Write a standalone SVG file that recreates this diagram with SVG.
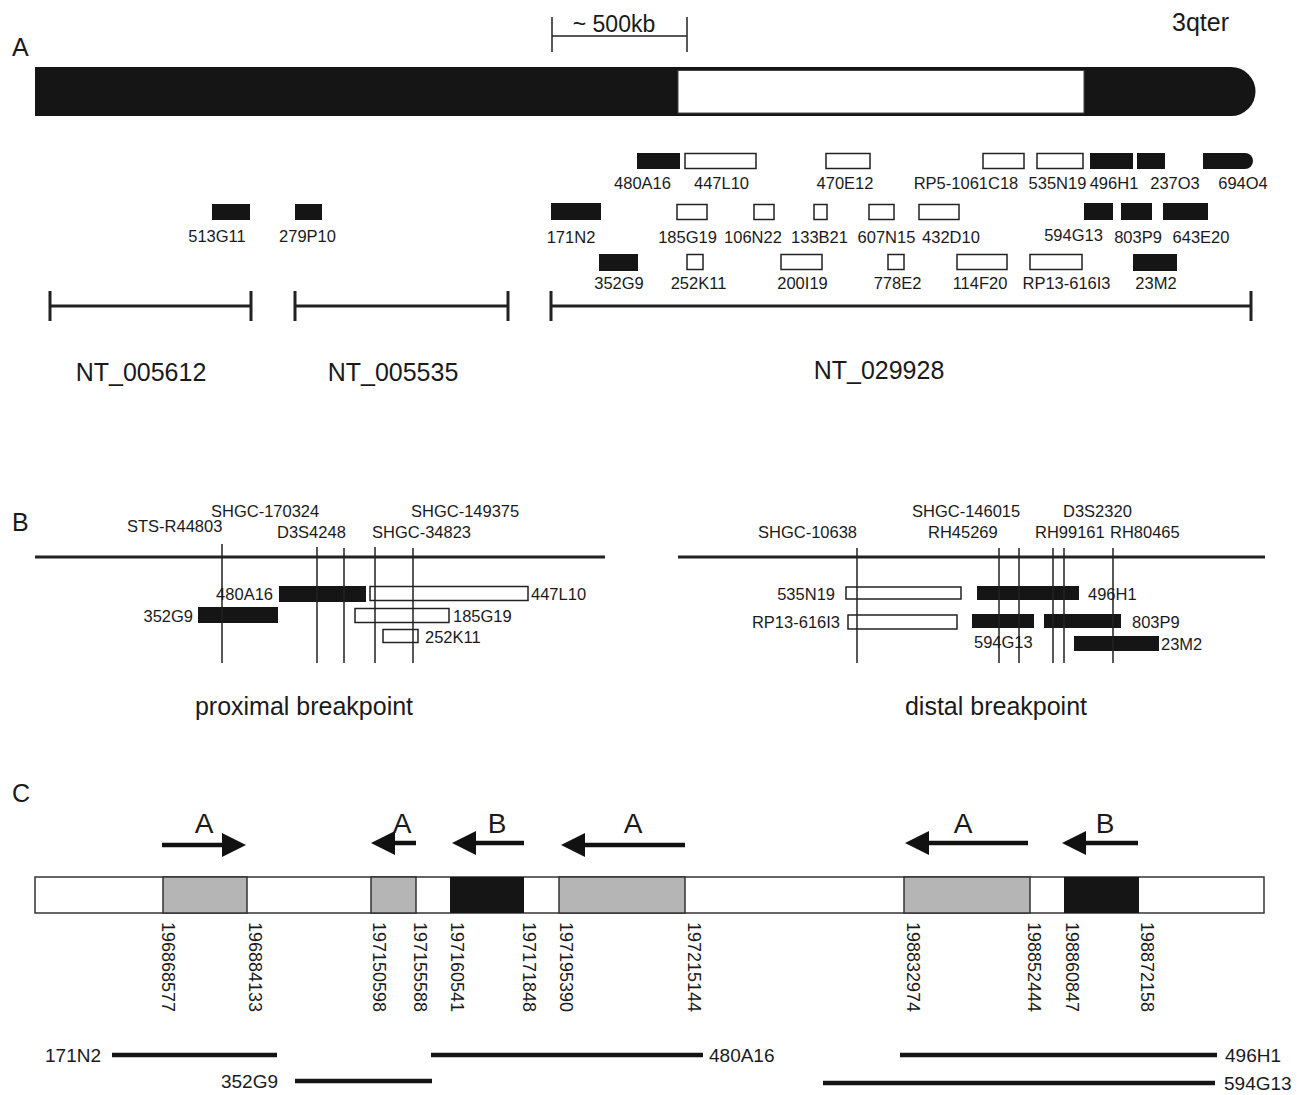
<svg xmlns="http://www.w3.org/2000/svg" width="1298" height="1095" viewBox="0 0 1298 1095">
<defs>
<style>
text{font-family:"Liberation Sans",Arial,sans-serif;fill:#1a1a1a}
.s{font-size:16.5px}
.m{font-size:19px}
.n{font-size:18px}
.l{font-size:25px}
.h{font-size:28px}
.blk{fill:#151515}
.wht{fill:#fff;stroke:#222;stroke-width:1.5}
.gry{fill:#b5b5b5;stroke:#333;stroke-width:1.5}
.ln{stroke:#222;fill:none}
.thin{stroke:#222;stroke-width:1.5;fill:none}
.arw{stroke:#111;stroke-width:4.5;fill:none;marker-end:url(#head)}
.bar{stroke:#151515;stroke-width:4.5}
.c{text-anchor:middle}
.e{text-anchor:end}
</style>
<marker id="head" viewBox="0 0 24 24" refX="0" refY="12" markerWidth="24" markerHeight="24" markerUnits="userSpaceOnUse" orient="auto">
<path d="M0,0 L24,12 L0,24 Z" fill="#111"/>
</marker>
</defs>
<rect width="1298" height="1095" fill="#fff"/>

<!-- Section A -->
<g id="sectionA">
<text x="12" y="56" class="l">A</text>
<text x="1172" y="31" class="l">3qter</text>
<g id="scalebar">
<path class="thin" d="M552,36 H687 M552,17 V52 M687,17 V52"/>
<text x="614" y="32" class="c" style="font-size:23px">~ 500kb</text>
</g>
<g id="chromosome">
<path class="blk" d="M35,67 H1231 A24.5,24.5 0 0 1 1231,116 H35 Z"/>
<rect x="678" y="70.5" width="406" height="42.5" fill="#fff" stroke="#444" stroke-width="1"/>
</g>

<g id="clones-row1">
<rect class="blk" x="637" y="153" width="43" height="16"/>
<rect class="wht" x="685" y="153.5" width="71" height="15"/>
<rect class="wht" x="826" y="153.5" width="44" height="15"/>
<rect class="wht" x="983" y="153.5" width="41" height="15"/>
<rect class="wht" x="1037" y="153.5" width="46" height="15"/>
<rect class="blk" x="1090" y="153" width="43" height="16"/>
<rect class="blk" x="1137" y="153" width="28" height="16"/>
<path class="blk" d="M1203,153 H1245 A8,8 0 0 1 1245,169 H1203 Z"/>
<text class="s c" x="642.5" y="189">480A16</text>
<text class="s c" x="721.5" y="189">447L10</text>
<text class="s c" x="845" y="189">470E12</text>
<text class="s c" x="966" y="189">RP5-1061C18</text>
<text class="s c" x="1057.5" y="189">535N19</text>
<text class="s c" x="1114" y="189">496H1</text>
<text class="s c" x="1175" y="189">237O3</text>
<text class="s c" x="1243" y="189">694O4</text>
</g>

<g id="clones-row2">
<rect class="blk" x="212" y="204" width="38" height="16"/>
<rect class="blk" x="295" y="204" width="27" height="16"/>
<rect class="blk" x="551" y="203" width="50" height="17"/>
<rect class="wht" x="677" y="204.5" width="30" height="15"/>
<rect class="wht" x="754" y="204.5" width="20" height="15"/>
<rect class="wht" x="814" y="204.5" width="13" height="15"/>
<rect class="wht" x="869" y="204.5" width="25" height="15"/>
<rect class="wht" x="919" y="204.5" width="40" height="15"/>
<rect class="blk" x="1084" y="203" width="29" height="17"/>
<rect class="blk" x="1121" y="203" width="31" height="17"/>
<rect class="blk" x="1163" y="203" width="45" height="17"/>
<text class="s c" x="217" y="242">513G11</text>
<text class="s c" x="307.5" y="242">279P10</text>
<text class="s c" x="571" y="243">171N2</text>
<text class="s c" x="687.5" y="243">185G19</text>
<text class="s c" x="753" y="243">106N22</text>
<text class="s c" x="819.5" y="243">133B21</text>
<text class="s c" x="886.5" y="243">607N15</text>
<text class="s c" x="951" y="243">432D10</text>
<text class="s c" x="1073.5" y="241">594G13</text>
<text class="s c" x="1138" y="243">803P9</text>
<text class="s c" x="1201" y="243">643E20</text>
</g>

<g id="clones-row3">
<rect class="blk" x="599" y="254" width="39" height="17"/>
<rect class="wht" x="687" y="254.5" width="16" height="15"/>
<rect class="wht" x="781" y="254.5" width="41" height="15"/>
<rect class="wht" x="888" y="254.5" width="16" height="15"/>
<rect class="wht" x="957" y="254.5" width="50" height="15"/>
<rect class="wht" x="1030" y="254.5" width="52" height="15"/>
<rect class="blk" x="1133" y="254" width="44" height="17"/>
<text class="s c" x="619" y="289">352G9</text>
<text class="s c" x="698.5" y="289">252K11</text>
<text class="s c" x="802.5" y="289">200I19</text>
<text class="s c" x="897.5" y="289">778E2</text>
<text class="s c" x="980" y="289">114F20</text>
<text class="s c" x="1066.5" y="289">RP13-616I3</text>
<text class="s c" x="1156" y="289">23M2</text>
</g>

<g id="contigs">
<path class="ln" stroke-width="3" d="M50,306 H251 M50,291 V321 M251,291 V321"/>
<path class="ln" stroke-width="3" d="M295,306 H508 M295,291 V321 M508,291 V321"/>
<path class="ln" stroke-width="3" d="M551,306 H1251 M551,291 V321 M1251,291 V321"/>
<text class="l c" x="141" y="381">NT_005612</text>
<text class="l c" x="393" y="381">NT_005535</text>
<text class="l c" x="879" y="379">NT_029928</text>
</g>
</g>

<!-- Section B -->
<g id="sectionB">
<text x="12" y="531" class="l">B</text>
<g id="proximal">
<path class="ln" stroke-width="3" d="M35,557 H605"/>
<rect class="blk" x="279" y="586" width="87" height="16"/>
<rect class="wht" x="370" y="586.5" width="158" height="14"/>
<rect class="blk" x="198" y="607" width="80" height="16"/>
<rect class="wht" x="355" y="608.5" width="94" height="14"/>
<rect class="wht" x="383" y="629.5" width="35" height="13"/>
<path class="thin" d="M222,544 V663 M317,547 V663 M344,548 V663 M375,547 V663 M413,548 V663"/>
<text class="s" x="127" y="532">STS-R44803</text>
<text class="s" x="211" y="517">SHGC-170324</text>
<text class="s" x="277" y="538">D3S4248</text>
<text class="s" x="411" y="517">SHGC-149375</text>
<text class="s" x="372" y="538">SHGC-34823</text>
<text class="s e" x="273" y="600">480A16</text>
<text class="s" x="531" y="600">447L10</text>
<text class="s e" x="193" y="622">352G9</text>
<text class="s" x="453" y="622">185G19</text>
<text class="s" x="425" y="643">252K11</text>
<text class="l c" x="304" y="715">proximal breakpoint</text>
</g>
<g id="distal">
<path class="ln" stroke-width="3" d="M678,557 H1265"/>
<rect class="wht" x="846" y="587" width="115" height="12"/>
<rect class="blk" x="977" y="586" width="102" height="14"/>
<rect class="wht" x="848" y="615" width="109" height="14"/>
<rect class="blk" x="972" y="614" width="62" height="14"/>
<rect class="blk" x="1044" y="614" width="77" height="14"/>
<rect class="blk" x="1074" y="636" width="85" height="15"/>
<path class="thin" d="M857,548 V663 M999,548 V663 M1019,548 V663 M1053,548 V663 M1064,548 V663 M1113,548 V663"/>
<text class="s" x="758" y="538">SHGC-10638</text>
<text class="s" x="912" y="517">SHGC-146015</text>
<text class="s" x="928" y="538">RH45269</text>
<text class="s" x="1063" y="517">D3S2320</text>
<text class="s" x="1035" y="538">RH99161</text>
<text class="s" x="1110" y="538">RH80465</text>
<text class="s e" x="835" y="600">535N19</text>
<text class="s" x="1088" y="600">496H1</text>
<text class="s e" x="840" y="628">RP13-616I3</text>
<text class="s" x="974" y="648">594G13</text>
<text class="s" x="1132" y="628">803P9</text>
<text class="s" x="1161" y="650">23M2</text>
<text class="l c" x="996" y="715">distal breakpoint</text>
</g>
</g>

<!-- Section C -->
<g id="sectionC">
<text x="12" y="802" class="l">C</text>
<g id="region-bar">
<rect x="35" y="877" width="1229" height="36" fill="#fff" stroke="#333" stroke-width="1.5"/>
<rect class="gry" x="163" y="877" width="84" height="36"/>
<rect class="gry" x="371" y="877" width="45" height="36"/>
<rect class="blk" x="450" y="877" width="74" height="36"/>
<rect class="gry" x="559" y="877" width="126" height="36"/>
<rect class="gry" x="904" y="877" width="126" height="36"/>
<rect class="blk" x="1064" y="877" width="75" height="36"/>
</g>
<g id="arrows">
<path class="arw" d="M162,845 H222"/>
<path class="arw" d="M416,843 H395"/>
<path class="arw" d="M524,843 H476"/>
<path class="arw" d="M685,845 H585"/>
<path class="arw" d="M1028,843 H929"/>
<path class="arw" d="M1138,843 H1086"/>
<text class="h c" x="204" y="833">A</text>
<text class="h c" x="402" y="833">A</text>
<text class="h c" x="497" y="833">B</text>
<text class="h c" x="633" y="833">A</text>
<text class="h c" x="963" y="833">A</text>
<text class="h c" x="1105" y="833">B</text>
</g>
<g id="coords">
<text class="n" transform="translate(161.5,922) rotate(90)">196868577</text>
<text class="n" transform="translate(248.5,922) rotate(90)">196884133</text>
<text class="n" transform="translate(372.5,922) rotate(90)">197150598</text>
<text class="n" transform="translate(413.5,922) rotate(90)">197155588</text>
<text class="n" transform="translate(450.5,922) rotate(90)">197160541</text>
<text class="n" transform="translate(522.5,922) rotate(90)">197171848</text>
<text class="n" transform="translate(559.5,922) rotate(90)">197195390</text>
<text class="n" transform="translate(687.5,922) rotate(90)">197215144</text>
<text class="n" transform="translate(906.5,922) rotate(90)">198832974</text>
<text class="n" transform="translate(1027.5,922) rotate(90)">198852444</text>
<text class="n" transform="translate(1065.5,922) rotate(90)">198860847</text>
<text class="n" transform="translate(1140.5,922) rotate(90)">198872158</text>
</g>
<g id="bac-lines">
<path class="bar" d="M112,1055 H277 M431,1055 H703 M295,1081 H432 M900,1055 H1217 M823,1083 H1215"/>
<text class="m e" x="101" y="1062">171N2</text>
<text class="m e" x="278" y="1088">352G9</text>
<text class="m" x="709" y="1062">480A16</text>
<text class="m" x="1225" y="1062">496H1</text>
<text class="m" x="1224" y="1090">594G13</text>
</g>
</g>
</svg>
